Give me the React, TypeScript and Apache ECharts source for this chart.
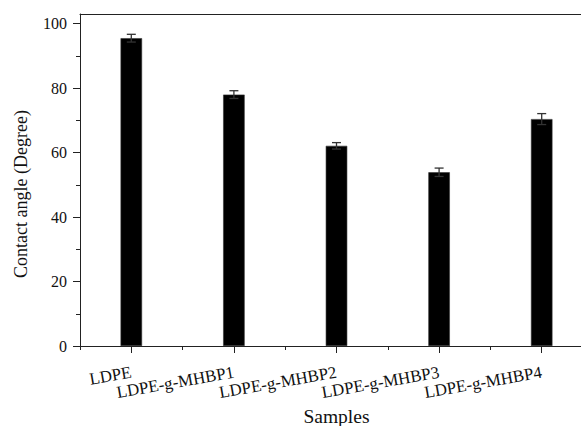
import React, { useEffect, useRef } from "react";
import * as echarts from "echarts";

const categories = ["LDPE", "LDPE-g-MHBP1", "LDPE-g-MHBP2", "LDPE-g-MHBP3", "LDPE-g-MHBP4"];
const contactAngle = [95.5, 78.0, 62.1, 53.9, 70.4];
const errors = [1.2, 1.2, 1.0, 1.3, 1.7];
const majorTicks = [0, 20, 40, 60, 80, 100];
const minorTicks = [10, 30, 50, 70, 90];

const FONT = "'Liberation Serif', 'Times New Roman', serif";

export default function App() {
  const ref = useRef<HTMLDivElement>(null);
  useEffect(() => {
    if (!ref.current) return;
    const chart = echarts.init(ref.current, null, { renderer: "svg" });
    const errData = categories.map((_, i) => [i, contactAngle[i] - errors[i], contactAngle[i] + errors[i]]);
    chart.setOption({
      animation: false,
      backgroundColor: "#ffffff",
      grid: {
        left: 80,
        right: 27,
        top: 14,
        bottom: 80,
        containLabel: false,
        outerBoundsMode: "none",
        show: false,
      },
      xAxis: [
        {
          type: "category",
          data: categories,
          position: "bottom",
          axisLine: { show: true, lineStyle: { color: "#222", width: 1 } },
          axisTick: { show: true, alignWithLabel: true, length: 7, lineStyle: { color: "#222" } },
          axisLabel: {
            interval: 0,
            rotate: 10,
            margin: 26,
            fontSize: 17,
            fontFamily: FONT,
            color: "#111",
          },
          name: "Samples",
          nameLocation: "middle",
          nameGap: 58,
          nameTextStyle: { fontSize: 19.5, fontFamily: FONT, color: "#111" },
          splitLine: { show: false },
        },
        {
          type: "category",
          data: categories,
          position: "bottom",
          axisLine: { show: false },
          axisTick: { show: true, alignWithLabel: false, interval: 0, length: 4, lineStyle: { color: "#222" } },
          axisLabel: { show: false },
          splitLine: { show: false },
        },
        {
          type: "category",
          data: categories,
          position: "top",
          axisLine: { show: true, lineStyle: { color: "#222", width: 1 } },
          axisTick: { show: false },
          axisLabel: { show: false },
          splitLine: { show: false },
        },
      ],
      yAxis: [
        {
          type: "value",
          min: 0,
          max: 103,
          position: "left",
          axisLine: { show: true, lineStyle: { color: "#222", width: 1 } },
          axisTick: { show: true, length: 7, customValues: majorTicks, lineStyle: { color: "#222" } },
          axisLabel: {
            customValues: majorTicks,
            margin: 13,
            fontSize: 16,
            fontFamily: FONT,
            color: "#111",
          },
          splitLine: { show: false },
        },
        {
          type: "value",
          min: 0,
          max: 103,
          position: "left",
          axisLine: { show: false },
          axisTick: { show: true, length: 4, customValues: minorTicks, lineStyle: { color: "#222" } },
          axisLabel: { show: false },
          splitLine: { show: false },
        },
      ],
      graphic: [
        {
          type: "text",
          x: 21,
          y: 194,
          rotation: Math.PI / 2,
          style: {
            text: "Contact angle (Degree)",
            fontSize: 18,
            fontFamily: FONT,
            fill: "#111",
            textAlign: "center",
            textVerticalAlign: "middle",
          },
        },
      ],
      series: [
        {
          type: "bar",
          data: contactAngle,
          xAxisIndex: 0,
          yAxisIndex: 0,
          barWidth: 21.5,
          itemStyle: { color: "#000", borderColor: "#333", borderWidth: 0.6 },
          z: 2,
        },
        {
          type: "custom",
          xAxisIndex: 0,
          yAxisIndex: 0,
          data: errData,
          z: 3,
          renderItem: (params: any, api: any) => {
            const x = api.value(0);
            const lo = api.coord([x, api.value(1)]);
            const hi = api.coord([x, api.value(2)]);
            const half = 4.5;
            const st = { stroke: "#333", lineWidth: 1.3 };
            return {
              type: "group",
              children: [
                { type: "line", shape: { x1: lo[0], y1: lo[1], x2: hi[0], y2: hi[1] }, style: st },
                { type: "line", shape: { x1: hi[0] - half, y1: hi[1], x2: hi[0] + half, y2: hi[1] }, style: st },
                { type: "line", shape: { x1: lo[0] - half, y1: lo[1], x2: lo[0] + half, y2: lo[1] }, style: st },
              ],
            };
          },
        },
      ],
    });
    return () => chart.dispose();
  }, []);
  return (
    <div style={{ position: "fixed", left: 0, top: 0, width: 581, height: 426, overflow: "hidden", background: "#fff" }}>
      <div ref={ref} style={{ width: 620, height: 426 }} />
    </div>
  );
}
